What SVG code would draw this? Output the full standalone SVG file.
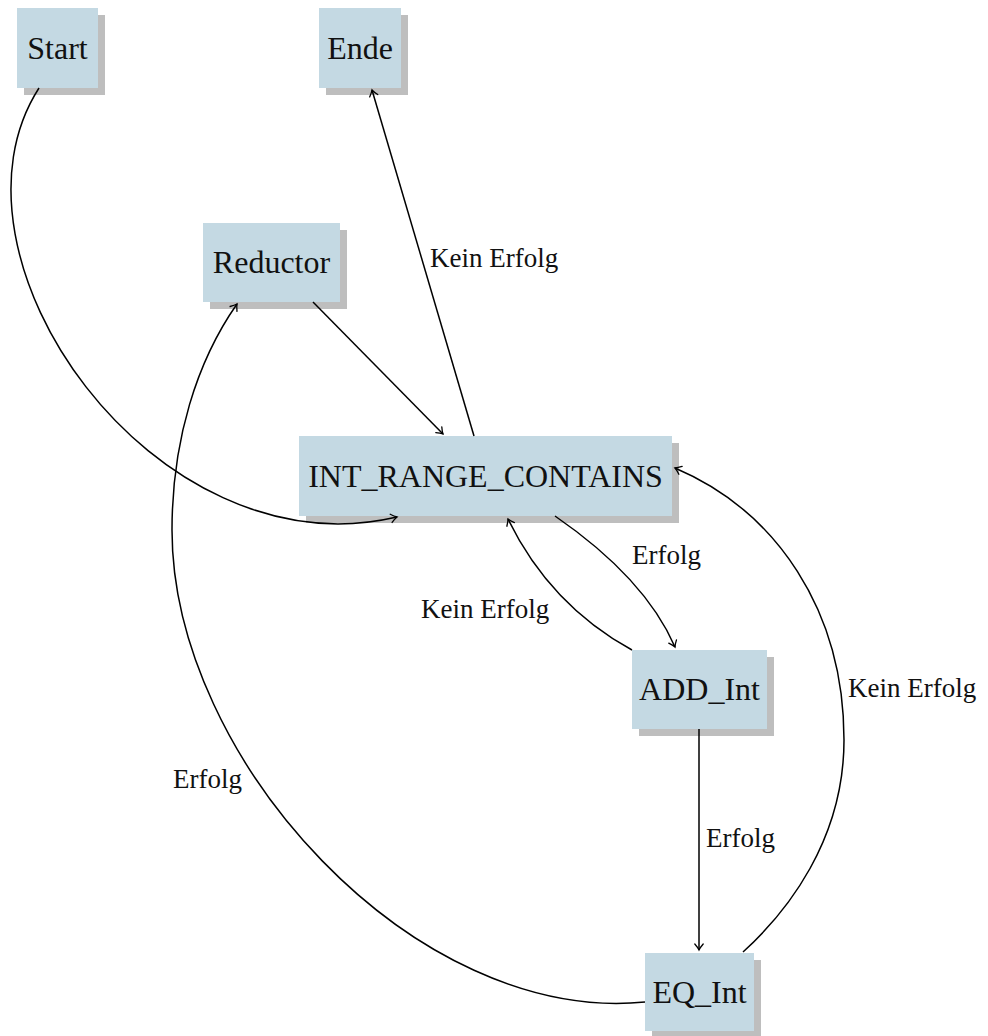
<svg xmlns="http://www.w3.org/2000/svg" width="988" height="1036" viewBox="0 0 988 1036">
<style>
.box{fill:#c4d9e3}
.shadow{fill:#bebebe}
.ntext{font-family:"Liberation Serif","Times New Roman",serif;font-size:32px;fill:#111;text-anchor:middle}
.ltext{font-family:"Liberation Serif","Times New Roman",serif;font-size:27px;fill:#111}
.edge{fill:none;stroke:#000;stroke-width:1.5;marker-end:url(#arr)}
</style>
<defs>
<marker id="arr" markerUnits="userSpaceOnUse" orient="auto" markerWidth="12" markerHeight="12" refX="0" refY="0" viewBox="-8 -6 10 12" overflow="visible">
<path d="M-6,-4.2 Q-2.5,-1.2 0,0 Q-2.5,1.2 -6,4.2" fill="none" stroke="#000" stroke-width="1.3" stroke-linecap="round"/>
</marker>
</defs>
<g id="node-start">
<rect class="shadow" x="24" y="15" width="81" height="80"/>
<rect class="box" x="17" y="8" width="81" height="80"/>
<text class="ntext" x="57.5" y="59">Start</text>
</g>
<g id="node-ende">
<rect class="shadow" x="326" y="15" width="82" height="80"/>
<rect class="box" x="319" y="8" width="82" height="80"/>
<text class="ntext" x="360" y="59">Ende</text>
</g>
<g id="node-reductor">
<rect class="shadow" x="210" y="230" width="137" height="79"/>
<rect class="box" x="203" y="223" width="137" height="79"/>
<text class="ntext" x="271.5" y="273">Reductor</text>
</g>
<g id="node-int-range">
<rect class="shadow" x="306" y="443" width="373" height="80"/>
<rect class="box" x="299" y="436" width="373" height="80"/>
<text class="ntext" x="485.5" y="487">INT_RANGE_CONTAINS</text>
</g>
<g id="node-add-int">
<rect class="shadow" x="639" y="657" width="135" height="79"/>
<rect class="box" x="632" y="650" width="135" height="79"/>
<text class="ntext" x="699.5" y="700">ADD_Int</text>
</g>
<g id="node-eq-int">
<rect class="shadow" x="652" y="960" width="109" height="78"/>
<rect class="box" x="645" y="953" width="109" height="78"/>
<text class="ntext" x="699.5" y="1003">EQ_Int</text>
</g>
<g id="edges">
<path class="edge" d="M39,88 C-69,256 153,574 397,517"/>
<path class="edge" d="M313,302 L443,434"/>
<path class="edge" d="M474,436 L372,90"/>
<path class="edge" d="M555,516 Q645,578 675,647"/>
<path class="edge" d="M632,650 Q550,605 508,519"/>
<path class="edge" d="M699,729 L699,950"/>
<path class="edge" d="M645,1002 C415,1025 172,760 172,530 C172,440 197,361 237,304"/>
<path class="edge" d="M743,952 C787,912 844,840 844,740 C844,610 776,511 675,468"/>
</g>
<g id="edge-labels">
<text class="ltext" x="430" y="267">Kein Erfolg</text>
<text class="ltext" x="632" y="564">Erfolg</text>
<text class="ltext" x="421" y="618">Kein Erfolg</text>
<text class="ltext" x="706" y="847">Erfolg</text>
<text class="ltext" x="173" y="788">Erfolg</text>
<text class="ltext" x="848" y="697">Kein Erfolg</text>
</g>
</svg>
